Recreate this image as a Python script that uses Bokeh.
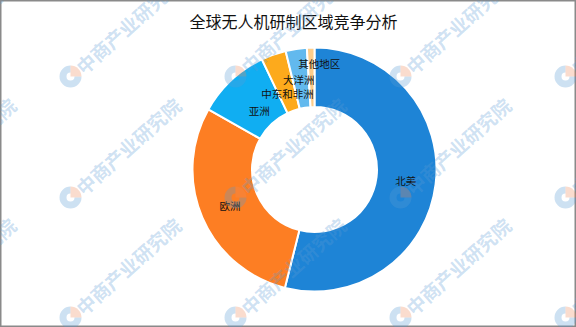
import math
from bokeh.plotting import figure
from bokeh.models import Range1d, ColumnDataSource
from bokeh.core.properties import value
from bokeh.embed import file_html
from bokeh.resources import INLINE

# ---- data ----
title_text = "全球无人机研制区域竞争分析"
regions = ["北美", "欧洲", "亚洲", "中东和非洲", "大洋洲", "其他地区"]
shares = [53.9, 29.3, 9.7, 3.3, 2.8, 1.0]
colors = ["#1e84d6", "#fd7e23", "#10aef2", "#fdaa1c", "#62b9ee", "#fdcd8a"]
watermark_text = "中商产业研究院"

W, H = 576, 327
FONT = "Noto Sans CJK SC"

p = figure(width=W, height=H, output_backend="svg", toolbar_location=None,
           x_range=Range1d(0, W), y_range=Range1d(0, H), min_border=0)
p.axis.visible = False
p.grid.visible = False
p.background_fill_color = "white"
p.border_fill_color = "white"
p.outline_line_color = "#8a8a8a"
p.outline_line_width = 2

# ---- donut ----
cx, cy = 314, H - 169
r_out, r_in = 122, 62.5
total = float(sum(shares))
starts, ends, mids = [], [], []
acc = 0.0
for s in shares:
    a0 = acc / total
    acc += s
    a1 = acc / total
    starts.append(math.pi / 2 - a0 * 2 * math.pi)
    ends.append(math.pi / 2 - a1 * 2 * math.pi)
    mids.append((a0 + a1) / 2 * 2 * math.pi)  # clockwise from top

src = ColumnDataSource(dict(start=starts, end=ends, color=colors, region=regions, share=shares))
p.annular_wedge(x=cx, y=cy, inner_radius=r_in, outer_radius=r_out,
                start_angle="start", end_angle="end", direction="clock",
                fill_color="color", line_color="white", line_width=2, source=src)

# labels (radius per label and small x nudges, like the original's best-fit)
label_r = [92, 92, 81, 80.5, 91, 106]
label_dx = [0, 0, 0, 0, -2, 8]
lx = [cx + r * math.sin(m) + d for r, m, d in zip(label_r, mids, label_dx)]
ly = [cy + r * math.cos(m) for r, m in zip(label_r, mids)]
p.text(x=lx, y=ly, text=regions, text_align="center", text_baseline="middle",
       text_font=value(FONT), text_font_size="10.5px", text_color="#111111")

# ---- title ----
p.text(x=[293], y=[H - 20], text=[title_text], text_align="center", text_baseline="middle",
       text_font=value(FONT), text_font_size="16px", text_color="#111111")

# ---- watermarks ----
wm_x, wm_y = [], []
for col in [-95, 70, 235, 400, 565]:
    for row in [76, 197, 317]:
        wm_x.append(col)
        wm_y.append(H - row)
ang = math.radians(42)
p.annular_wedge(x=wm_x, y=wm_y, inner_radius=4, outer_radius=11,
                start_angle=math.pi / 2, end_angle=2 * math.pi,
                fill_color="#5b9bd5", fill_alpha=0.3, line_color=None)
p.wedge(x=wm_x, y=wm_y, radius=11, start_angle=0, end_angle=math.pi / 2,
        fill_color="#f08a5d", fill_alpha=0.3, line_color=None)
p.text(x=[x + 8 for x in wm_x], y=[y + 7 for y in wm_y], text=[watermark_text] * len(wm_x),
       angle=ang, text_align="left", text_baseline="middle",
       text_font=value(FONT), text_font_size="19px", text_font_style="bold",
       text_color="#5b9bd5", text_alpha=0.3)

open("out.html", "w").write(file_html(p, INLINE))
